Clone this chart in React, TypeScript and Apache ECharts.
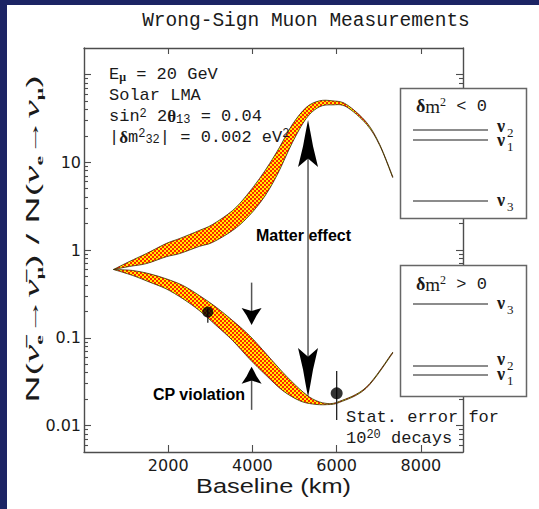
import React, { useEffect, useRef } from 'react';
import * as echarts from 'echarts';

// ---------- data ----------
const TITLE = 'Wrong-Sign Muon Measurements';
const X_MIN = 0;
const X_MAX = 9000;
const Y_MIN = 0.005;
const Y_MAX = 200;
const X_TICKS = [2000, 4000, 6000, 8000];
const Y_MAJOR_TICKS = [0.01, 0.1, 1, 10, 100];
const Y_TICK_LABELS = [0.01, 0.1, 1, 10];
const Y_MINOR_TICKS = [
  0.006, 0.007, 0.008, 0.009,
  0.02, 0.03, 0.04, 0.05, 0.06, 0.07, 0.08, 0.09,
  0.2, 0.3, 0.4, 0.5, 0.6, 0.7, 0.8, 0.9,
  2, 3, 4, 5, 6, 7, 8, 9,
  20, 30, 40, 50, 60, 70, 80, 90,
];

// upper band (matter-enhanced branch)
const upperKm = [700, 1080, 1480, 1960, 2270, 2740, 3050, 3530, 3860, 4170, 4410, 4640, 4950, 5280, 5590, 5900, 6230, 6710, 7020, 7330];
const upperHigh = [0.6, 0.74, 0.91, 1.19, 1.35, 1.67, 1.95, 2.82, 4.18, 6.53, 9.69, 14.7, 27.0, 42.2, 50.0, 50.0, 45.6, 28.4, 16.0, 6.9];
const upperLow = [0.6, 0.65, 0.7, 0.84, 0.91, 1.1, 1.22, 1.67, 2.29, 3.39, 5.03, 8.07, 16.8, 31.6, 42.7, 45.0, 42.7, 27.0, 15.6, 6.7];

// lower band (matter-suppressed branch)
const lowerKm = [700, 1160, 1560, 1950, 2350, 2740, 3140, 3530, 3930, 4330, 4720, 5120, 5430, 5750, 6070, 6700, 7330];
const lowerHigh = [0.6, 0.584, 0.535, 0.47, 0.394, 0.303, 0.223, 0.157, 0.106, 0.0655, 0.0404, 0.0261, 0.0201, 0.0179, 0.0189, 0.0273, 0.0684];
const lowerLow = [0.6, 0.512, 0.43, 0.361, 0.278, 0.204, 0.138, 0.0929, 0.0574, 0.0371, 0.025, 0.0192, 0.0176, 0.0173, 0.0184, 0.0266, 0.0667];

// measurements with statistical errors
const obsKm = [2940, 6000];
const obsVal = [0.197, 0.0233];
const obsErrLow = [0.148, 0.0116];
const obsErrHigh = [0.215, 0.0419];

// annotation arrows
const matterArrowKm = 5320;
const matterArrowTop = 30.3;
const matterArrowBottom = 0.0212;
const cpArrowKm = 3980;
const cpDownArrow = [0.425, 0.14]; // from, tip
const cpUpArrow = [0.0151, 0.0469]; // from, tip

const NAVY = '#1c2464';
const AXIS = '#4d4d4d';
const INK = '#1a1a1a';
const MONO = 'Liberation Mono';
const SERIF = 'Liberation Serif';
const SANS = 'Liberation Sans';

function catmull(pts: number[][], start: boolean) {
  const n = pts.length;
  let d = (start ? 'M' : 'L') + pts[0][0] + ',' + pts[0][1];
  for (let i = 0; i < n - 1; i++) {
    const p0 = pts[Math.max(i - 1, 0)];
    const p1 = pts[i];
    const p2 = pts[i + 1];
    const p3 = pts[Math.min(i + 2, n - 1)];
    const c1x = p1[0] + (p2[0] - p0[0]) / 6;
    const c1y = p1[1] + (p2[1] - p0[1]) / 6;
    const c2x = p2[0] - (p3[0] - p1[0]) / 6;
    const c2y = p2[1] - (p3[1] - p1[1]) / 6;
    d += ' C' + c1x + ',' + c1y + ' ' + c2x + ',' + c2y + ' ' + p2[0] + ',' + p2[1];
  }
  return d;
}

function bandPath(api: any, xs: number[], hi: number[], lo: number[]) {
  const top = xs.map((x, i) => api.coord([x, hi[i]]));
  const bot = xs.map((x, i) => api.coord([x, lo[i]])).reverse();
  return catmull(top, true) + ' ' + catmull(bot, false) + ' Z';
}

function head(tip: number[], dir: number, len: number, half: number) {
  const [tx, ty] = tip;
  const s = dir;
  return [
    [tx, ty],
    [tx + half * 0.25, ty + s * len * 0.27],
    [tx + half * 0.5, ty + s * len * 0.56],
    [tx + half, ty + s * len],
    [tx, ty + s * len * 0.82],
    [tx - half, ty + s * len],
    [tx - half * 0.5, ty + s * len * 0.56],
    [tx - half * 0.25, ty + s * len * 0.27],
  ];
}

export default function App() {
  const ref = useRef<HTMLDivElement>(null);
  useEffect(() => {
    const el = ref.current as HTMLDivElement;
    const chart = echarts.init(el, null, { renderer: 'svg' });

    const cv = document.createElement('canvas');
    cv.width = 4;
    cv.height = 4;
    const ctx = cv.getContext('2d') as CanvasRenderingContext2D;
    ctx.fillStyle = '#ffee00';
    ctx.fillRect(0, 0, 4, 4);
    ctx.fillStyle = '#ff2200';
    ctx.fillRect(0, 0, 2, 2);
    ctx.fillRect(2, 2, 2, 2);
    const checker: any = { image: cv.toDataURL(), repeat: 'repeat', imageWidth: 4, imageHeight: 4 };

    const lineStyle = { color: AXIS, width: 1.4 };
    const labelFont = { fontFamily: 'DejaVu Sans', fontSize: 16, color: INK };
    const logAxis = (pos: string, major: boolean, labels: boolean) => ({
      type: 'log',
      logBase: 10,
      min: Y_MIN,
      max: Y_MAX,
      position: pos,
      axisLine: { show: major, lineStyle },
      axisTick: {
        show: true,
        inside: true,
        length: major ? 7 : 4,
        customValues: major ? Y_MAJOR_TICKS : Y_MINOR_TICKS,
        lineStyle: { color: AXIS, width: 1.1 },
      },
      axisLabel: labels
        ? { show: true, customValues: Y_TICK_LABELS, margin: 3, formatter: (v: number) => String(+Number(v).toPrecision(3)), ...labelFont }
        : { show: false },
      minorTick: { show: false },
      splitLine: { show: false },
    });

    const richSmall = {
      sub: { fontFamily: MONO, fontSize: 12, verticalAlign: 'bottom', lineHeight: 10 },
      sup: { fontFamily: MONO, fontSize: 12, verticalAlign: 'top', lineHeight: 10 },
      g: { fontFamily: SERIF, fontWeight: 'bold', fontSize: 17, lineHeight: 18 },
      gsub: { fontFamily: SERIF, fontWeight: 'bold', fontSize: 12, verticalAlign: 'bottom', lineHeight: 10 },
    };
    const monoText = (text: string, x: number, y: number) => ({
      type: 'text',
      x,
      y,
      z: 20,
      style: {
        text,
        fontFamily: MONO,
        fontSize: 17,
        lineHeight: 18,
        fill: INK,
        align: 'left',
        verticalAlign: 'middle',
        rich: richSmall,
      },
    });

    const boxRich = {
      g: { fontFamily: SERIF, fontWeight: 'bold', fontSize: 18, lineHeight: 20 },
      m: { fontFamily: SERIF, fontSize: 19, lineHeight: 20 },
      sup: { fontFamily: SERIF, fontSize: 12, verticalAlign: 'top', lineHeight: 11 },
    };
    const boxHeader = (text: string, x: number, y: number) => ({
      type: 'text',
      x,
      y,
      z: 22,
      style: {
        text,
        fontFamily: MONO,
        fontSize: 17,
        lineHeight: 20,
        fill: INK,
        align: 'left',
        verticalAlign: 'middle',
        rich: boxRich,
      },
    });
    const nuLabel = (sub: string, y: number) => [
      {
        type: 'text', x: 497, y, z: 22,
        style: { text: 'ν', fontFamily: SERIF, fontWeight: 'bold', fontSize: 18, lineHeight: 11, fill: INK, align: 'left', verticalAlign: 'middle' },
      },
      {
        type: 'text', x: 507, y: y + 6, z: 22,
        style: { text: sub, fontFamily: SERIF, fontSize: 13, lineHeight: 9, fill: INK, align: 'left', verticalAlign: 'middle' },
      },
    ];
    const boxLine = (y: number) => ({
      type: 'line',
      z: 22,
      shape: { x1: 413, y1: y, x2: 488, y2: y },
      style: { stroke: '#666', lineWidth: 1.4 },
    });

    const graphics: any[] = [
      { type: 'rect', z: 30, shape: { x: 0, y: 0, width: 7, height: 509 }, style: { fill: NAVY } },
      { type: 'rect', z: 30, shape: { x: 0, y: 0, width: 539, height: 5 }, style: { fill: NAVY } },
      {
        type: 'text', x: 306, y: 21, z: 20,
        style: { text: TITLE, fontFamily: MONO, fontSize: 19.5, fill: INK, align: 'center', verticalAlign: 'middle' },
      },
      {
        type: 'text', x: 32, y: 239, rotation: Math.PI / 2, scaleX: 1.97, z: 20,
        style: {
          text: 'N({v|ν̄}{s|e}{a|→}{v|ν̄}{s|μ}) / N({v|ν}{s|e}{a|→}{v|ν}{s|μ})',
          fontFamily: SANS, fontSize: 19, lineHeight: 26, fill: INK, align: 'center', verticalAlign: 'middle',
          rich: {
            v: { fontFamily: SERIF, fontStyle: 'italic', fontSize: 21, lineHeight: 26 },
            s: { fontFamily: SERIF, fontWeight: 'bold', fontSize: 11, verticalAlign: 'bottom', lineHeight: 12 },
            a: { fontFamily: SANS, fontSize: 19, lineHeight: 26 },
          },
        },
      },
      {
        type: 'text', x: 273.5, y: 487, scaleX: 1.3, z: 20,
        style: { text: 'Baseline (km)', fontFamily: SANS, fontSize: 19.5, fill: INK, align: 'center', verticalAlign: 'middle' },
      },
      monoText('E{gsub|μ} = 20 GeV', 109, 74),
      monoText('Solar LMA', 109, 95),
      monoText('sin{sup|2} 2{g|θ}{sub|13} = 0.04', 109, 116.5),
      monoText('|{g|δ}m{sup|2}{sub|32}| = 0.002 eV{sup|2}', 109, 137),
      {
        type: 'text', x: 303.5, y: 235, z: 20,
        style: { text: 'Matter effect', fontFamily: SANS, fontWeight: 'bold', fontSize: 16, fill: '#000', align: 'center', verticalAlign: 'middle' },
      },
      {
        type: 'text', x: 199, y: 394, z: 20,
        style: { text: 'CP violation', fontFamily: SANS, fontWeight: 'bold', fontSize: 16, fill: '#000', align: 'center', verticalAlign: 'middle' },
      },
      // boxes
      { type: 'rect', z: 21, shape: { x: 400.5, y: 88.5, width: 126, height: 130 }, style: { fill: '#fff', stroke: '#666', lineWidth: 1.5 } },
      { type: 'rect', z: 21, shape: { x: 400.5, y: 265.5, width: 126, height: 131 }, style: { fill: '#fff', stroke: '#666', lineWidth: 1.5 } },
      monoText('Stat. error for', 346, 417),
      monoText('10{sup|20} decays', 346, 438),
      boxHeader('{g|δ}{m|m}{sup|2} < 0', 416, 106),
      boxHeader('{g|δ}{m|m}{sup|2} > 0', 416, 284),
      boxLine(130), boxLine(140), boxLine(201),
      boxLine(304), boxLine(366), boxLine(375),
      ...nuLabel('2', 126),
      ...nuLabel('1', 140),
      ...nuLabel('3', 200),
      ...nuLabel('3', 303),
      ...nuLabel('2', 359),
      ...nuLabel('1', 374),
    ];

    const option: any = {
      animation: false,
      backgroundColor: '#fff',
      grid: { left: 84, right: 76, top: 48, bottom: 57, containLabel: false, outerBoundsMode: 'none' },
      xAxis: [
        {
          type: 'value', min: X_MIN, max: X_MAX, position: 'bottom',
          axisLine: { show: true, onZero: false, lineStyle },
          axisTick: { show: true, inside: true, length: 7, customValues: X_TICKS, lineStyle: { color: AXIS, width: 1.1 } },
          axisLabel: { show: true, customValues: X_TICKS, margin: 5, formatter: (v: number) => String(v), ...labelFont },
          splitLine: { show: false },
        },
        {
          type: 'value', min: X_MIN, max: X_MAX, position: 'top',
          axisLine: { show: true, onZero: false, lineStyle },
          axisTick: { show: true, inside: true, length: 6, customValues: X_TICKS, lineStyle: { color: AXIS, width: 1.1 } },
          axisLabel: { show: false },
          splitLine: { show: false },
        },
      ],
      yAxis: [logAxis('left', true, true), logAxis('left', false, false), logAxis('right', true, false), logAxis('right', false, false)],
      graphic: { elements: graphics },
      series: [
        {
          type: 'custom', coordinateSystem: 'cartesian2d', silent: true, z: 3,
          data: [[upperKm[0], upperHigh[0]]],
          renderItem: (_p: any, api: any) => ({
            type: 'path',
            shape: { pathData: bandPath(api, upperKm, upperHigh, upperLow) },
            style: { fill: checker, stroke: '#3a2a00', lineWidth: 0.8 },
          }),
        },
        {
          type: 'custom', coordinateSystem: 'cartesian2d', silent: true, z: 3,
          data: [[lowerKm[0], lowerHigh[0]]],
          renderItem: (_p: any, api: any) => ({
            type: 'path',
            shape: { pathData: bandPath(api, lowerKm, lowerHigh, lowerLow) },
            style: { fill: checker, stroke: '#3a2a00', lineWidth: 0.8 },
          }),
        },
        {
          type: 'custom', coordinateSystem: 'cartesian2d', silent: true, z: 4,
          data: obsKm.map((x, i) => [x, obsErrLow[i], obsErrHigh[i]]),
          renderItem: (_p: any, api: any) => {
            const a = api.coord([api.value(0), api.value(1)]);
            const b = api.coord([api.value(0), api.value(2)]);
            return { type: 'line', shape: { x1: a[0], y1: a[1], x2: b[0], y2: b[1] }, style: { stroke: '#222', lineWidth: 1.3 } };
          },
        },
        {
          type: 'scatter', silent: true, z: 5,
          data: obsKm.map((x, i) => [x, obsVal[i]]),
          symbol: 'circle',
          symbolSize: (_v: any, p: any) => (p.dataIndex === 0 ? 11 : 12),
          itemStyle: { color: '#000' },
        },
        {
          type: 'custom', coordinateSystem: 'cartesian2d', silent: true, z: 6,
          data: [[matterArrowKm, matterArrowTop]],
          renderItem: (_p: any, api: any) => {
            const t = api.coord([matterArrowKm, matterArrowTop]);
            const b = api.coord([matterArrowKm, matterArrowBottom]);
            return {
              type: 'group',
              children: [
                { type: 'line', shape: { x1: t[0], y1: t[1] + 20, x2: b[0], y2: b[1] - 20 }, style: { stroke: '#555', lineWidth: 1.5 } },
                { type: 'polygon', shape: { points: head(t, 1, 47, 10) }, style: { fill: '#000' } },
                { type: 'polygon', shape: { points: head(b, -1, 49, 10) }, style: { fill: '#000' } },
              ],
            };
          },
        },
        {
          type: 'custom', coordinateSystem: 'cartesian2d', silent: true, z: 6,
          data: [[cpArrowKm, cpDownArrow[0]]],
          renderItem: (_p: any, api: any) => {
            const d0 = api.coord([cpArrowKm, cpDownArrow[0]]);
            const d1 = api.coord([cpArrowKm, cpDownArrow[1]]);
            const u0 = api.coord([cpArrowKm, cpUpArrow[0]]);
            const u1 = api.coord([cpArrowKm, cpUpArrow[1]]);
            return {
              type: 'group',
              children: [
                { type: 'line', shape: { x1: d0[0], y1: d0[1], x2: d1[0], y2: d1[1] - 8 }, style: { stroke: '#555', lineWidth: 1.5 } },
                { type: 'line', shape: { x1: u0[0], y1: u0[1], x2: u1[0], y2: u1[1] + 8 }, style: { stroke: '#555', lineWidth: 1.5 } },
                { type: 'polygon', shape: { points: head(d1, -1, 17, 10) }, style: { fill: '#000' } },
                { type: 'polygon', shape: { points: head(u1, 1, 17, 10) }, style: { fill: '#000' } },
              ],
            };
          },
        },
      ],
    };

    chart.setOption(option);
    return () => chart.dispose();
  }, []);

  return <div ref={ref} style={{ position: 'fixed', left: 0, top: 0, width: 539, height: 509 }} />;
}
